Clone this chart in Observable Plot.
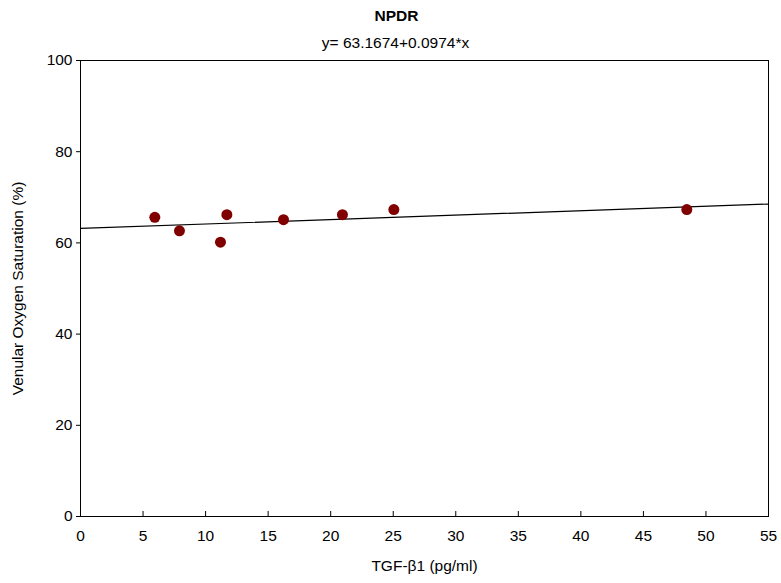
<!DOCTYPE html>
<html>
<head>
<meta charset="utf-8">
<script src="https://cdn.jsdelivr.net/npm/d3@7"></script>
<script src="https://cdn.jsdelivr.net/npm/@observablehq/plot@0.6"></script>
<style>
  body { margin: 0; background: #fff; }
  svg { font-family: "Liberation Sans", Arial, sans-serif; }
</style>
</head>
<body>
<div id="chart"></div>
<script>
const title = "NPDR";
const subtitle = "y= 63.1674+0.0974*x";
const xLabel = "TGF-β1 (pg/ml)";
const yLabel = "Venular Oxygen Saturation (%)";
const tgf = [5.94, 7.91, 11.19, 11.70, 16.23, 20.94, 25.05, 48.47];
const venSat = [65.6, 62.65, 60.15, 66.2, 65.1, 66.2, 67.3, 67.3];
const intercept = 63.1674;
const slope = 0.0974;
const xTicks = [0, 5, 10, 15, 20, 25, 30, 35, 40, 45, 50, 55];
const yTicks = [0, 20, 40, 60, 80, 100];
const xDomain = [0, 55];
const yDomain = [0, 100];

const pts = tgf.map((x, i) => ({x, y: venSat[i]}));
const fit = xDomain.map(x => ({x, y: intercept + slope * x}));
const FS = 15.5;

const chart = Plot.plot({
  width: 781,
  height: 583,
  marginLeft: 80,
  marginRight: 13,
  marginTop: 60,
  marginBottom: 67,
  style: {fontFamily: "'Liberation Sans', Arial, sans-serif", fontSize: FS + "px", color: "#000", background: "#fff"},
  x: {domain: xDomain},
  y: {domain: yDomain},
  marks: [
    Plot.frame({stroke: "#000", strokeWidth: 1}),
    Plot.axisX({ticks: xTicks, tickSize: 5, text: null, dy: -5, label: null}),
    Plot.axisX({ticks: xTicks, tickSize: 0, tickPadding: 13, label: xLabel, labelAnchor: "center", labelArrow: "none", labelOffset: 54, fontSize: FS}),
    Plot.axisY({ticks: yTicks, tickSize: 4, tickPadding: 4, label: yLabel, labelAnchor: "center", labelArrow: "none", labelOffset: 69, fontSize: FS}),
    Plot.line(fit, {x: "x", y: "y", stroke: "#000", strokeWidth: 1.2}),
    Plot.dot(pts, {x: "x", y: "y", r: 5.5, fill: "#800000", stroke: "none"}),
    Plot.text([title], {frameAnchor: "top", dx: -28, dy: -51, fontWeight: "bold", fontSize: FS}),
    Plot.text([subtitle], {frameAnchor: "top", dx: -29, dy: -24, fontSize: FS})
  ]
});
document.getElementById("chart").appendChild(chart);
</script>
</body>
</html>
